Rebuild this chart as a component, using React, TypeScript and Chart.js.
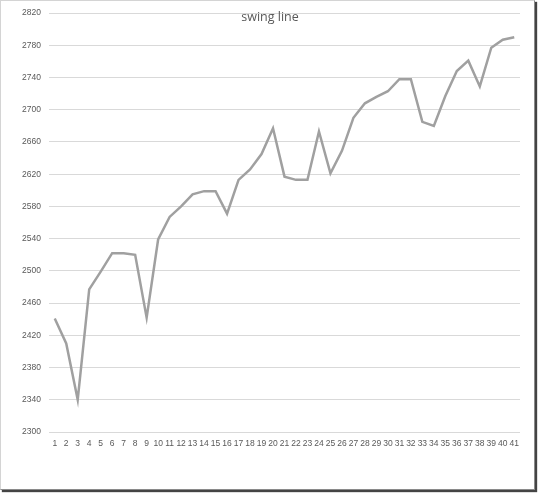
import React, { useEffect, useRef } from "react";
import { Chart, registerables } from "chart.js";

Chart.register(...registerables);

const categories: string[] = Array.from({ length: 41 }, (_, i) => String(i + 1));
const swingValues: number[] = [
  2441, 2410, 2340, 2477, 2499, 2522, 2522, 2520, 2442, 2539,
  2567, 2580, 2595, 2599, 2599, 2571, 2613, 2626, 2645, 2677,
  2617, 2613, 2613, 2673, 2621, 2649, 2690, 2708, 2716, 2723,
  2738, 2738, 2685, 2680, 2717, 2748, 2761, 2729, 2777, 2787,
  2790,
];
const yMin = 2300;
const yMax = 2820;
const yStep = 40;
const titleText = "swing line";

const tickFont = { family: "'Liberation Sans', Arial, sans-serif", size: 8.5 };

const titlePlugin = {
  id: "innerTitle",
  afterDraw(chart: any) {
    const ctx = chart.ctx;
    ctx.save();
    ctx.font = "12.5px 'Open Sans', 'Liberation Sans', sans-serif";
    ctx.fillStyle = "#595959";
    ctx.textAlign = "center";
    ctx.textBaseline = "middle";
    ctx.fillText(titleText, 270, 17.5);
    ctx.restore();
  },
};

export default function App() {
  const ref = useRef<HTMLCanvasElement | null>(null);
  useEffect(() => {
    if (!ref.current) return;
    const chart = new Chart(ref.current, {
      type: "line",
      data: {
        labels: categories,
        datasets: [
          {
            label: titleText,
            data: swingValues,
            borderColor: "#a0a0a0",
            borderWidth: 2.5,
            pointRadius: 0,
            tension: 0,
            fill: false,
          },
        ],
      },
      options: {
        animation: false,
        responsive: false,
        maintainAspectRatio: false,
        layout: { padding: { top: 12, right: 20, bottom: 0, left: 0 } },
        plugins: {
          legend: { display: false },
          title: { display: false },
          tooltip: { enabled: false },
        },
        scales: {
          x: {
            offset: true,
            grid: { display: false, drawTicks: false },
            border: { display: false },
            ticks: {
              autoSkip: false,
              maxRotation: 0,
              minRotation: 0,
              padding: 7,
              color: "#595959",
              font: tickFont,
            },
            afterFit(scale: any) {
              scale.height = 62;
            },
          },
          y: {
            min: yMin,
            max: yMax,
            grid: { color: "#d9d9d9", drawTicks: false, lineWidth: 1 },
            border: { display: false },
            ticks: {
              stepSize: yStep,
              padding: 8,
              color: "#595959",
              font: tickFont,
              callback: (v: any) => String(v),
            },
            afterFit(scale: any) {
              scale.width = 49;
            },
          },
        },
      },
      plugins: [titlePlugin],
    });
    return () => chart.destroy();
  }, []);

  return (
    <div style={{ position: "fixed", left: 0, top: 0, width: 540, height: 494, background: "#fff" }}>
      <canvas ref={ref} width={540} height={494} style={{ position: "absolute", left: 0, top: 0, width: 540, height: 494 }} />
      <div
        style={{
          position: "absolute",
          left: 0,
          top: 0,
          width: 535,
          height: 490,
          boxSizing: "border-box",
          borderTop: "1px solid #d4d4d4",
          borderLeft: "1px solid #d4d4d4",
          borderRight: "1px solid #8a8a8a",
          borderBottom: "1px solid #8a8a8a",
          boxShadow: "2px 2px 1px #444",
          pointerEvents: "none",
        }}
      />
    </div>
  );
}
